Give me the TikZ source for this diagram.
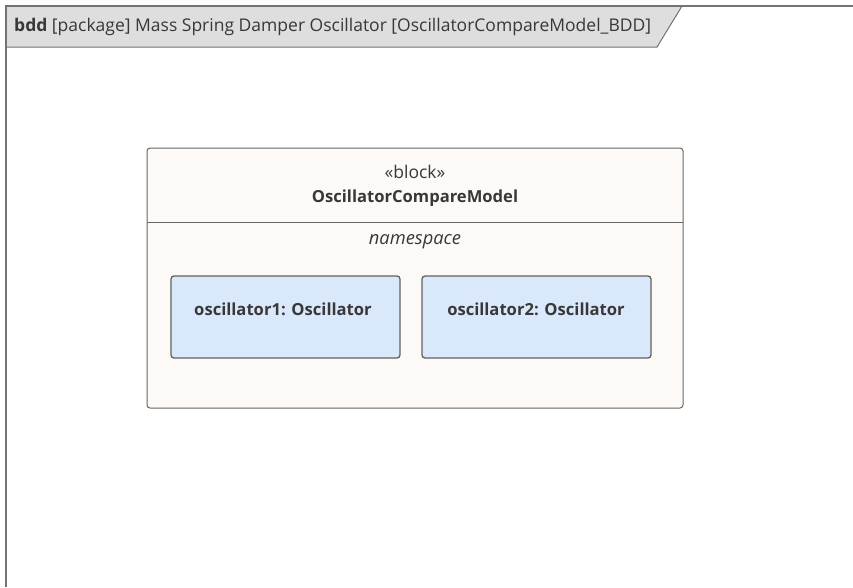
\documentclass[tikz,border=0pt]{standalone}
\usepackage{fontspec}
\setmainfont{Open Sans}
\begin{document}
\begin{tikzpicture}[x=1pt,y=-1pt,
  frameline/.style={draw=black!55, line width=1.3pt},
  tabshape/.style={fill=black!13, draw=black!55, line width=1pt},
  blockbox/.style={draw=black!60, fill={rgb,255:red,253;green,249;blue,246}, rounded corners=3pt, line width=1pt},
  partbox/.style={draw=black!62, fill={rgb,255:red,218;green,232;blue,251}, rounded corners=3pt, line width=1.3pt},
  txt/.style={text=black!78, inner sep=0pt, font=\fontsize{17.5}{20}\selectfont},
  boldtxt/.style={txt, font=\fontsize{16.6}{20}\selectfont\bfseries},
  ittxt/.style={txt, font=\fontsize{18.3}{20}\selectfont\itshape}
]
\useasboundingbox (0,0) rectangle (853,587);
% frame
\draw[tabshape] (6,6) -- (682,6) -- (657,47) -- (6,47) -- cycle;
\draw[frameline] (6,587) -- (6,6) -- (853,6);
\node[txt, anchor=west] (title) at (14,27) {\textbf{bdd} [package] Mass Spring Damper Oscillator [OscillatorCompareModel\_BDD]};
% block
\draw[blockbox] (147,148) rectangle (683,408);
\draw[draw=black!60, line width=1pt] (147,222) -- (683,222);
\node[txt] (stereo) at (415,172) {«block»};
\node[boldtxt] (bname) at (415,198) {OscillatorCompareModel};
\node[ittxt] (ns) at (415,242) {namespace};
% parts
\draw[partbox] (171,276) rectangle (400,358);
\draw[partbox] (422,276) rectangle (651,358);
\node[boldtxt] (p1) at (283,309) {oscillator1: Oscillator};
\node[boldtxt] (p2) at (536,309) {oscillator2: Oscillator};
\end{tikzpicture}
\end{document}
